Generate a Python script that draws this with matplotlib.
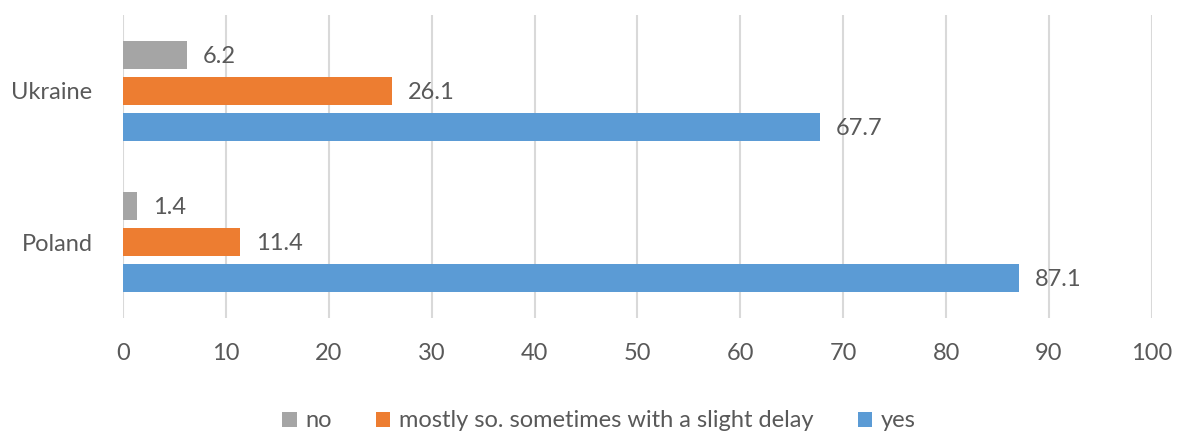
import matplotlib.pyplot as plt
import numpy as np

# data
categories = ['Poland', 'Ukraine']
series_names = ['no', 'mostly so. sometimes with a slight delay', 'yes']
no_vals = [1.4, 6.2]
mostly_vals = [11.4, 26.1]
yes_vals = [87.1, 67.7]
colors = ['#a5a5a5', '#ed7d31', '#5b9bd5']

plt.rcParams['font.family'] = ['Lato', 'DejaVu Sans']
txt = '#595959'
fs = 17

fig = plt.figure(figsize=(11.79, 4.34), dpi=100)
ax = fig.add_axes([0.1043, 0.2673, 0.8727, 0.6981])

y = np.arange(len(categories))
h = 0.184
step = 0.237
handles = []
for i, (vals, name, c) in enumerate(zip([no_vals, mostly_vals, yes_vals], series_names, colors)):
    pos = y + step * (1 - i)
    b = ax.barh(pos, vals, height=h, color=c, label=name, zorder=3)
    handles.append(b)
    for p, v in zip(pos, vals):
        ax.annotate(f'{v:.1f}', (v, p), xytext=(11.5, -1), textcoords='offset points',
                    va='center', ha='left', fontsize=fs, color=txt)

ax.set_xlim(0, 100)
ax.set_ylim(-0.5, 1.5)
ax.set_xticks(np.arange(0, 101, 10))
ax.set_yticks(y)
ax.set_yticklabels(categories)
ax.tick_params(axis='both', length=0, labelsize=fs, colors=txt)
ax.tick_params(axis='x', pad=18)
ax.tick_params(axis='y', pad=22)
ax.grid(axis='x', color='#d9d9d9', lw=1.5, zorder=0)
for s in ax.spines.values():
    s.set_visible(False)

fig.legend(handles=handles, labels=series_names, loc='center', bbox_to_anchor=(0.508, 0.03),
           ncol=3, frameon=False, fontsize=fs, labelcolor=txt,
           handlelength=0.6, handleheight=0.6, handletextpad=0.35, columnspacing=1.9)

fig.savefig('out.png', dpi=100)
